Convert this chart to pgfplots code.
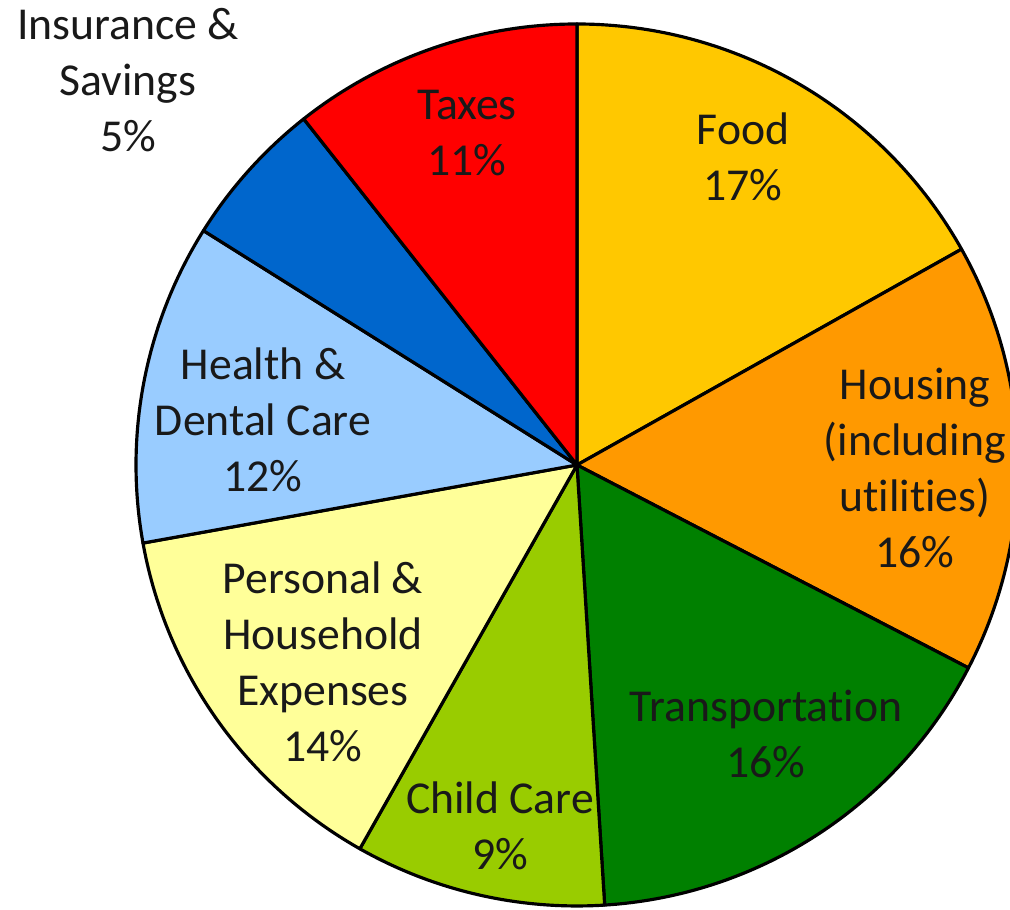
\documentclass[border=0pt]{standalone}
\usepackage{pgfplots}
\pgfplotsset{compat=1.18}
\usepackage{fontspec}
\setmainfont{Carlito}[Ligatures={NoCommon}]
\definecolor{cFood}{RGB}{255,200,0}
\definecolor{cHousing}{RGB}{255,153,0}
\definecolor{cTrans}{RGB}{0,128,0}
\definecolor{cChild}{RGB}{153,204,0}
\definecolor{cPersonal}{RGB}{255,255,153}
\definecolor{cHealth}{RGB}{153,204,255}
\definecolor{cIns}{RGB}{0,102,204}
\definecolor{cTaxes}{RGB}{255,0,0}
% slice: start angle, end angle (clockwise from 90 deg, 3.6 deg per percent), colour
\newcommand\pieslice[3]{%
  \addplot[fill=#3, draw=black, line width=0.9pt, line join=round,
    domain=#1:#2, samples=80, variable=\t]
    ({cos(\t)},{sin(\t)}) -- (axis cs:0,0) -- cycle;}
\begin{document}
\begin{tikzpicture}
\begin{axis}[
  width=10.1cm, height=9.1cm, scale only axis,
  hide axis, clip=false,
  xmin=-1.3084, xmax=0.9819, ymin=-1.0091, ymax=1.0544,
]
% shares (%): Food 16.9, Housing 15.7, Transportation 16.4, Child Care 9.2,
% Personal 14.0, Health 11.7, Insurance 5.4, Taxes 10.6
\pieslice{90}{29.3}{cFood}
\pieslice{29.3}{-27.4}{cHousing}
\pieslice{-27.4}{-86.4}{cTrans}
\pieslice{-86.4}{-119.5}{cChild}
\pieslice{-119.5}{-169.8}{cPersonal}
\pieslice{-169.8}{-212.1}{cHealth}
\pieslice{-212.1}{-231.7}{cIns}
\pieslice{-231.7}{-270}{cTaxes}
\begin{scope}[every node/.style={align=center, font=\fontsize{13}{15.9}\selectfont, text=black!90}]
\node at (axis cs:-1.0181,0.8730) {Insurance \&\\Savings\\5\%};
\node at (axis cs:-0.2494,0.7528) {Taxes\\11\%};
\node at (axis cs:0.3764,0.6984) {Food\\17\%};
\node at (axis cs:0.7664,-0.0068) {Housing\\(including\\utilities)\\16\%};
\node at (axis cs:0.4286,-0.6100) {Transportation\\16\%};
\node at (axis cs:-0.1746,-0.8186) {Child Care\\9\%};
\node at (axis cs:-0.5760,-0.4467) {Personal \&\\Household\\Expenses\\14\%};
\node at (axis cs:-0.7120,0.1020) {Health \&\\Dental Care\\12\%};
\end{scope}
\end{axis}
\pgfresetboundingbox
\useasboundingbox (current axis.south west) rectangle (current axis.north east);
\end{tikzpicture}
\end{document}
